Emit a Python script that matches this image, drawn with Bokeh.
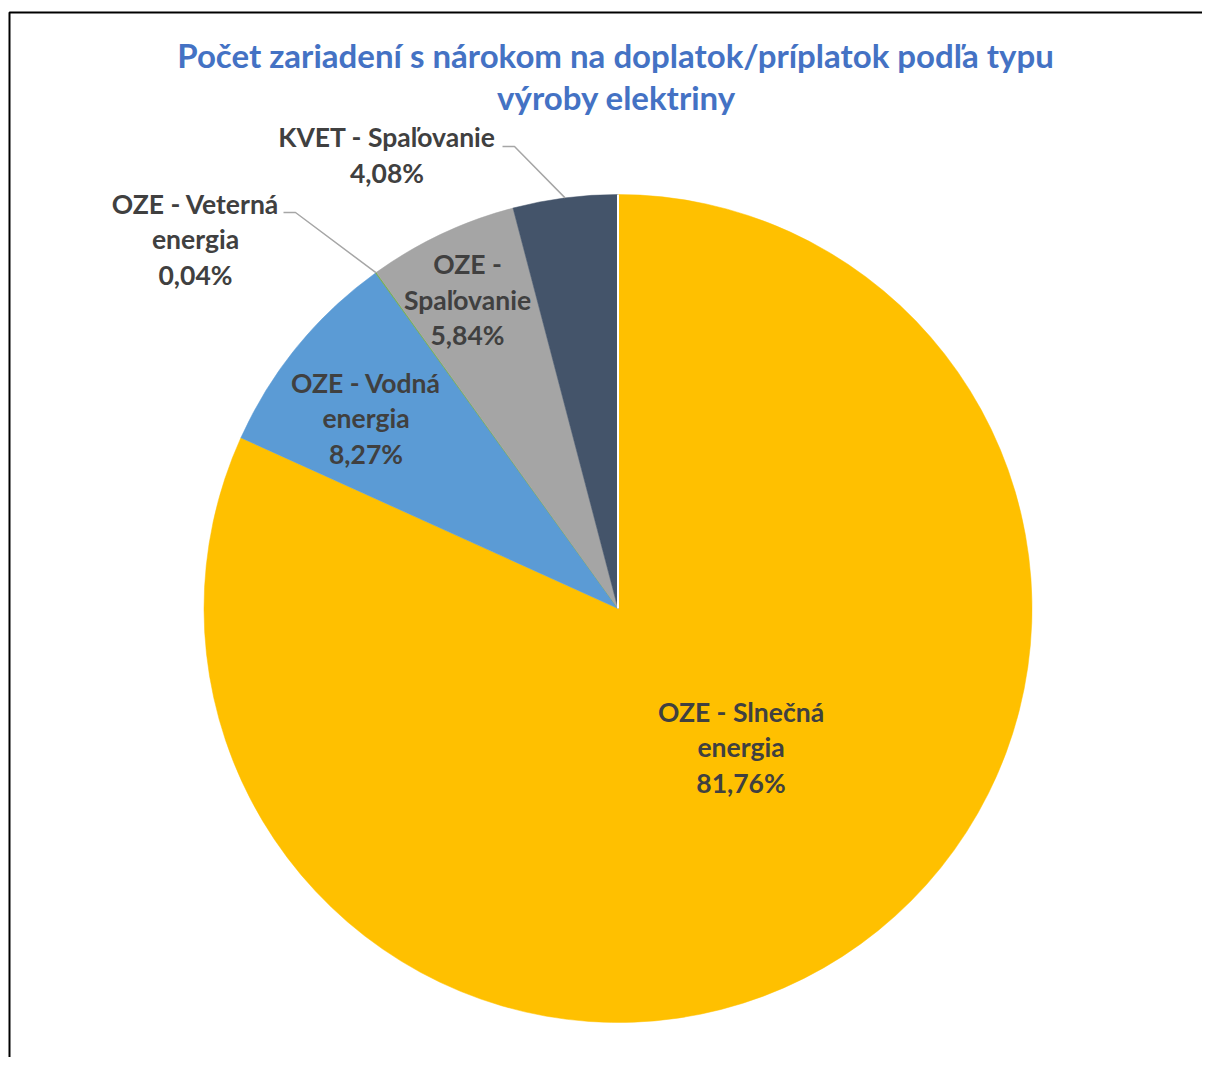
import math
from bokeh.plotting import figure
from bokeh.models import Range1d, ColumnDataSource
from bokeh.core.properties import value
from bokeh.embed import file_html
from bokeh.resources import INLINE

# ---- data ----
categories = ["OZE - Slnečná energia", "OZE - Vodná energia", "OZE - Veterná energia",
              "OZE - Spaľovanie", "KVET - Spaľovanie"]
shares = [81.76, 8.27, 0.04, 5.84, 4.08]
colors = ["#FFC000", "#5B9BD5", "#70AD47", "#A5A5A5", "#44546A"]
label_lines = [["OZE - Slnečná", "energia", "81,76%"],
               ["OZE - Vodná", "energia", "8,27%"],
               ["OZE - Veterná", "energia", "0,04%"],
               ["OZE -", "Spaľovanie", "5,84%"],
               ["KVET - Spaľovanie", "4,08%"]]
title_lines = ["Počet zariadení s nárokom na doplatok/príplatok podľa typu",
               "výroby elektriny"]

# ---- layout (pixels of the page) ----
W, H = 1202, 1057
CX, CY = 617.5, 608.0    # pie centre in page pixels
R = 414.0                # pie radius in pixels


def Y(py):
    return H - py  # page pixel y -> data y (up)


p = figure(width=W, height=H, output_backend="svg", toolbar_location=None,
           x_range=Range1d(0, W), y_range=Range1d(0, H),
           min_border=0, outline_line_color=None, background_fill_color="white")
p.axis.visible = False
p.grid.visible = False

# wedges
total = sum(shares)
starts, ends, cum = [], [], 0.0
for s in shares:
    a0 = math.pi / 2 - 2 * math.pi * cum / total
    cum += s
    a1 = math.pi / 2 - 2 * math.pi * cum / total
    starts.append(a0)
    ends.append(a1)

src = ColumnDataSource(dict(x=[CX] * len(shares), y=[Y(CY)] * len(shares),
                            start=starts, end=ends, color=colors))
p.wedge(x="x", y="y", radius=R, start_angle="start", end_angle="end",
        direction="clock", fill_color="color", line_color="color", line_width=0.5,
        source=src)
# thin white seam at the start of the first slice
p.ray(x=[CX], y=[Y(CY)], length=R, angle=[starts[0]], line_color="white", line_width=2)

# leader lines for the outside labels
lead_col = "#A6A6A6"
for idx, (tx, ty) in [(4, (502, 146)), (2, (283, 212))]:
    mid = (starts[idx] + ends[idx]) / 2
    ex = CX + R * math.cos(mid)
    ey = CY - R * math.sin(mid)
    p.line([tx, tx + 12, ex], [Y(ty), Y(ty), Y(ey)], line_color=lead_col, line_width=1.5)

# data labels: centre x and first line y (page pixels)
label_anchor = [(740.5, 711), (365.5, 382), (195, 203), (467, 263.5), (386.5, 136.5)]
LS = 35.6
xs, ys, ts = [], [], []
for (ax, ay), lines in zip(label_anchor, label_lines):
    for i, t in enumerate(lines):
        xs.append(ax)
        ys.append(Y(ay + i * LS))
        ts.append(t)
lsrc = ColumnDataSource(dict(x=xs, y=ys, t=ts))
p.text(x="x", y="y", text="t", source=lsrc, text_align="center", text_baseline="alphabetic",
       text_font=value("Lato"), text_font_style="bold", text_font_size="26.5px",
       text_color="#404040")

# title
tsrc = ColumnDataSource(dict(x=[615, 616], y=[Y(54), Y(96)], t=title_lines))
p.text(x="x", y="y", text="t", source=tsrc, text_align="center", text_baseline="alphabetic",
       text_font=value("Lato"), text_font_style="bold", text_font_size="33px",
       text_color="#4472C4")

# chart-area border (top and left visible)
p.line([9, 9, W], [Y(1063), Y(12), Y(12)], line_color="black", line_width=2)

open("out.html", "w").write(file_html(p, INLINE))
